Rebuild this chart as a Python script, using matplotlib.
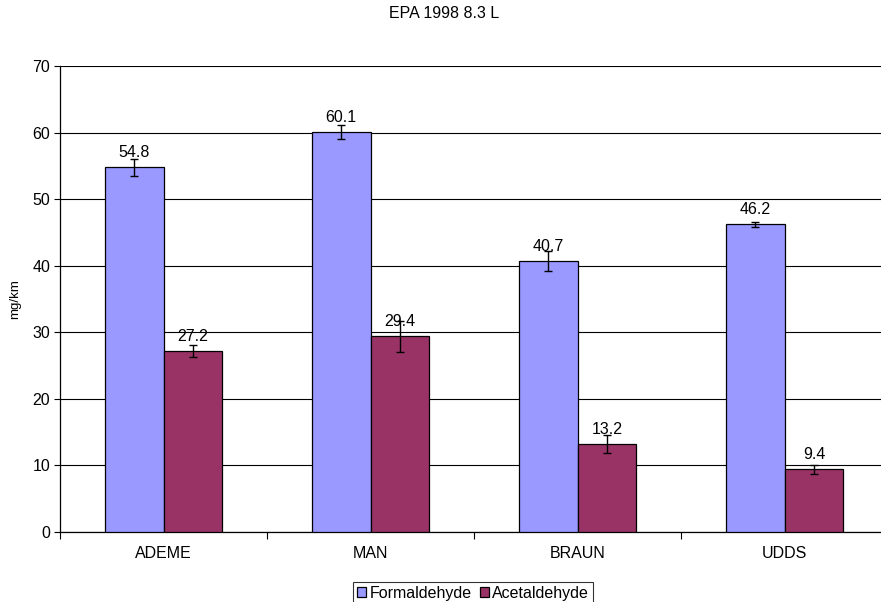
import matplotlib
matplotlib.use("Agg")
import matplotlib.pyplot as plt
import numpy as np

categories = ["ADEME", "MAN", "BRAUN", "UDDS"]
formaldehyde = [54.8, 60.1, 40.7, 46.2]
formaldehyde_err = [1.3, 1.05, 1.45, 0.4]
acetaldehyde = [27.2, 29.4, 13.2, 9.4]
acetaldehyde_err = [0.85, 2.3, 1.35, 0.65]
yticks = [0, 10, 20, 30, 40, 50, 60, 70]

plt.rcParams['font.family'] = ['Liberation Sans', 'DejaVu Sans']

fig = plt.figure(figsize=(8.81, 6.02), dpi=100)
ax = fig.add_axes([60/881, 70/602, 828/881, 466/602])

x = np.arange(len(categories))
w = 0.285
ekw = dict(ecolor="black", elinewidth=1, capsize=3, capthick=1)
b1 = ax.bar(x - w/2, formaldehyde, w, color="#9999FF", edgecolor="black", linewidth=0.9,
            yerr=formaldehyde_err, error_kw=ekw, label="Formaldehyde", zorder=3)
b2 = ax.bar(x + w/2, acetaldehyde, w, color="#993366", edgecolor="black", linewidth=0.9,
            yerr=acetaldehyde_err, error_kw=ekw, label="Acetaldehyde", zorder=3)

for bars, vals in ((b1, formaldehyde), (b2, acetaldehyde)):
    for r, v in zip(bars, vals):
        ax.annotate(f"{v:.1f}", (r.get_x() + r.get_width()/2, v), xytext=(0, 5),
                    textcoords="offset points", ha="center", va="bottom", fontsize=11.5, zorder=5)

ax.set_xlim(-0.5, len(categories) - 0.5)
ax.set_ylim(0, 70)
ax.set_yticks(yticks)
ax.yaxis.grid(True, color="black", linewidth=0.8, zorder=0)
ax.set_axisbelow(True)
ax.set_xticks(np.arange(len(categories) + 1) - 0.5)
ax.set_xticklabels([])
ax.set_xticks(x, minor=True)
ax.set_xticklabels(categories, minor=True, fontsize=11.5)
ax.tick_params(axis="x", which="minor", length=0, pad=10)
ax.tick_params(axis="x", which="major", length=5, width=0.8, direction="out")
ax.tick_params(axis="y", length=4, width=0.8, labelsize=11.5, pad=3)
for s in ("top", "right"):
    ax.spines[s].set_visible(False)
ax.spines["left"].set_linewidth(0.9)
ax.spines["bottom"].set_linewidth(0.9)

ax.set_ylabel("mg/km", fontsize=9.6, labelpad=8)
fig.text(444/881, 1 - 14/602, "EPA 1998 8.3 L", ha="center", va="center", fontsize=11.5)

leg = fig.legend(handles=[b1, b2], labels=["Formaldehyde", "Acetaldehyde"], loc="upper center",
                 bbox_to_anchor=(473/881, 1 - 582/602), ncol=2, fontsize=11.5, frameon=True,
                 fancybox=False, handlelength=0.6, handleheight=0.6, handletextpad=0.2,
                 columnspacing=0.5, borderpad=0.25, borderaxespad=0)
leg.get_frame().set_edgecolor("black")
leg.get_frame().set_linewidth(0.8)

fig.savefig("out.png", dpi=100)
